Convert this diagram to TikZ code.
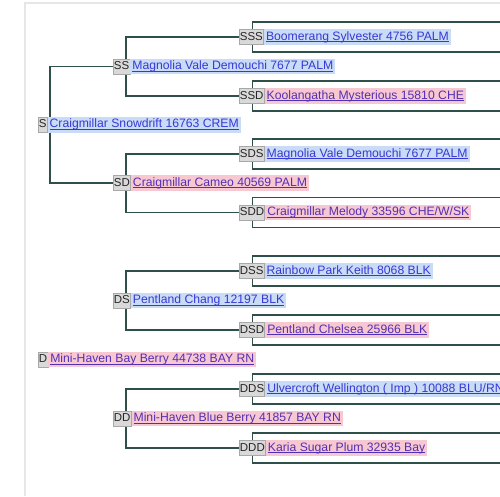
\documentclass[tikz,border=0pt]{standalone}
\usepackage{fontspec}
\setmainfont{Liberation Sans}
\usetikzlibrary{calc,backgrounds}
\definecolor{blbg}{HTML}{C8DCF8}
\definecolor{pkbg}{HTML}{F8C8D2}
\definecolor{bltx}{HTML}{3838D2}
\definecolor{pktx}{HTML}{5230B4}
\definecolor{conncol}{HTML}{2F4F4A}
\definecolor{labfill}{HTML}{D9D9D9}
\definecolor{labdraw}{HTML}{A8A8A8}
\definecolor{frame}{HTML}{E6E6E6}
\newcommand\myul[1]{\setbox0\hbox{#1}\rlap{\rule[-1.7pt]{\wd0}{0.7pt}}\box0}
\tikzset{
  lab/.style={draw=labdraw, fill=labfill, line width=0.6pt, anchor=west,
    font=\fontsize{11.5}{12}\selectfont, text=black!85, inner xsep=0.6pt, inner ysep=0pt,
    minimum height=15pt, text height=8.8pt, text depth=2.6pt},
  nmb/.style={fill=blbg, text=bltx, anchor=west, font=\fontsize{12.2}{13}\selectfont,
    inner xsep=2pt, inner ysep=0pt, minimum height=15.5pt, text height=9.2pt, text depth=3pt},
  nmp/.style={nmb, fill=pkbg, text=pktx},
  conn/.style={draw=conncol, line width=1.8pt}
}
\begin{document}
\begin{tikzpicture}[x=1pt,y=-1pt]
\useasboundingbox (0,0) rectangle (500,496);
\clip (0,0) rectangle (500,496);
% generation 1
\node[lab] (S) at (38,124.75) {S};
\node[nmb] (Sn) at (S.east) {\myul{Craigmillar Snowdrift 16763 CREM}};
\node[lab] (D) at (38,359.5) {D};
\node[nmp] (Dn) at (D.east) {\myul{Mini-Haven Bay Berry 44738 BAY RN}};
% generation 2
\node[lab] (SS) at (113,66.5) {SS};
\node[nmb] (SSn) at (SS.east) {\myul{Magnolia Vale Demouchi 7677 PALM}};
\node[lab] (SD) at (113,183) {SD};
\node[nmp] (SDn) at (SD.east) {\myul{Craigmillar Cameo 40569 PALM}};
\node[lab] (DS) at (113,300.5) {DS};
\node[nmb] (DSn) at (DS.east) {\myul{Pentland Chang 12197 BLK}};
\node[lab] (DD) at (113,418.5) {DD};
\node[nmp] (DDn) at (DD.east) {\myul{Mini-Haven Blue Berry 41857 BAY RN}};
% generation 3
\node[lab] (SSS) at (239,37) {SSS};
\node[nmb] (SSSn) at (SSS.east) {\myul{Boomerang Sylvester 4756 PALM}};
\node[lab] (SSD) at (239,96) {SSD};
\node[nmp] (SSDn) at (SSD.east) {\myul{Koolangatha Mysterious 15810 CHE}};
\node[lab] (SDS) at (239,154) {SDS};
\node[nmb] (SDSn) at (SDS.east) {\myul{Magnolia Vale Demouchi 7677 PALM}};
\node[lab] (SDD) at (239,212.5) {SDD};
\node[nmp] (SDDn) at (SDD.east) {\myul{Craigmillar Melody 33596 CHE/W/SK}};
\node[lab] (DSS) at (239,271) {DSS};
\node[nmb] (DSSn) at (DSS.east) {\myul{Rainbow Park Keith 8068 BLK}};
\node[lab] (DSD) at (239,330) {DSD};
\node[nmp] (DSDn) at (DSD.east) {\myul{Pentland Chelsea 25966 BLK}};
\node[lab] (DDS) at (239,389) {DDS};
\node[nmb] (DDSn) at (DDS.east) {\myul{Ulvercroft Wellington ( Imp ) 10088 BLU/RN}};
\node[lab] (DDD) at (239,448) {DDD};
\node[nmp] (DDDn) at (DDD.east) {\myul{Karia Sugar Plum 32935 Bay}};
\begin{pgfonlayer}{background}
  \fill[white] (0,0) rectangle (500,496);
  \draw[frame, line width=1.6pt] (25,496) -- (25,3) -- (500,3);
  \draw[conn] (SS.west) -- ++(-63,0) |- (SD.west);
  \draw[conn] (SSS.west) -- ++(-113,0) |- (SSD.west);
  \draw[conn] (SDS.west) -- ++(-113,0) |- (SDD.west);
  \draw[conn] (DSS.west) -- ++(-113,0) |- (DSD.west);
  \draw[conn] (DDS.west) -- ++(-113,0) |- (DDD.west);
  \foreach \n in {SSS,SSD,SDS,SDD,DSS,DSD,DDS,DDD} {
    \draw[conn] ($(\n.west)+(265,-15)$) -| ($(\n.west)+(13.5,0)$) |- ($(\n.west)+(265,15)$);
  }
\end{pgfonlayer}
\end{tikzpicture}
\end{document}
